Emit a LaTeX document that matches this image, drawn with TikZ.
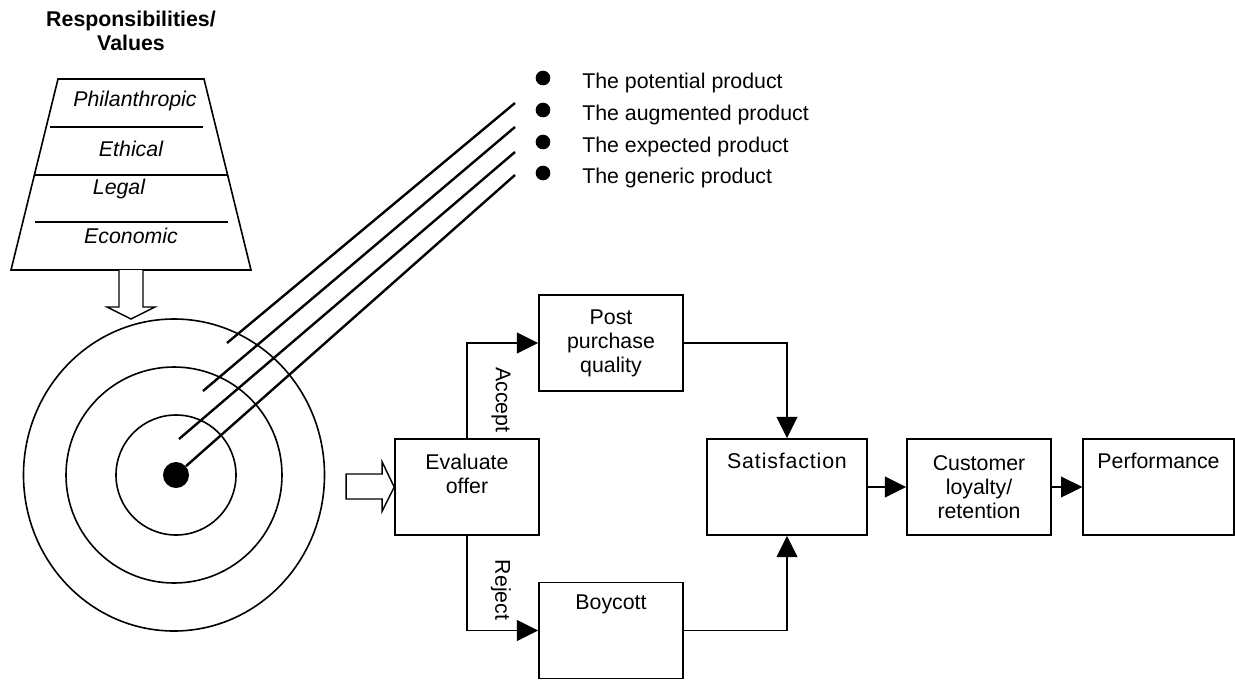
\documentclass[tikz,border=0pt]{standalone}
\usepackage{fontspec}
\setmainfont{Liberation Sans}
\usetikzlibrary{arrows.meta,positioning}

\tikzset{
  box/.style={draw, line width=1.2pt, minimum width=108pt, minimum height=72pt, inner sep=0pt, align=center, font=\fontsize{16}{18}\selectfont},
  txt/.style={inner sep=0pt, align=center, font=\fontsize{16}{18}\selectfont},
  layer/.style={inner sep=0pt, font=\fontsize{16}{18}\selectfont\itshape},
  flow/.style={line width=1.4pt, -{Triangle[length=16pt,width=15.5pt]}},
  ray/.style={line width=1.8pt},
  ring/.style={line width=1.2pt},
  hollow/.style={line width=1.1pt, fill=white},
  bullet/.style={circle, fill=black, inner sep=0pt, minimum size=11pt},
}

\begin{document}
\begin{tikzpicture}[x=0.75pt,y=0.75pt,yscale=-1,xscale=1]
  \useasboundingbox (0,0) rectangle (1235,679);

  % responsibilities pyramid
  \node[txt, font=\fontsize{16}{18}\selectfont\bfseries] (title) at (131,31) {Responsibilities/\\Values};
  \draw[ring] (58,79) -- (204,79) -- (251,270) -- (11,270) -- cycle;
  \draw[ring] (50,127) -- (203,127);
  \draw[ring] (34,175) -- (228,175);
  \draw[ring] (35,222) -- (228,222);
  \node[layer] (phil) at (135,101) {Philanthropic};
  \node[layer] (eth) at (131,149) {Ethical};
  \node[layer] (leg) at (119,189) {Legal};
  \node[layer] (eco) at (131,236) {Economic};
  \draw[hollow] (119,270) -- (119,307) -- (107,307) -- (131,319) -- (155,307) -- (143,307) -- (143,270);

  % product target
  \coordinate (tc) at (174,475);
  \draw[ring] (tc) ellipse [x radius=150.5, y radius=156];
  \draw[ring] (tc) circle [radius=108];
  \draw[ring] ([xshift=1.5pt]tc) circle [radius=60];
  \node[circle, fill=black, inner sep=0pt, minimum size=19.5pt] (dot) at (176,475) {};

  \coordinate (s1) at (227,343);
  \coordinate (s2) at (203,391);
  \coordinate (s3) at (179,439);
  \coordinate (e1) at (515,103);
  \coordinate (e2) at (515,127);
  \coordinate (e3) at (515,152);
  \coordinate (e4) at (515,175);
  \draw[ray] (s1) -- (e1);
  \draw[ray] (s2) -- (e2);
  \draw[ray] (s3) -- (e3);
  \draw[ray] (dot) -- (e4);

  \foreach \i/\y/\t in {1/78/The potential product, 2/110/The augmented product,
                         3/142/The expected product, 4/173/The generic product}{
    \node[bullet] (b\i) at (543,\y) {};
    \node[txt, anchor=west] (p\i) at (582,\y+5) {\t};
  }

  % evaluation chain
  \node[box] (eval) at (467,487) {};
  \node[txt] (evaltxt) at ([yshift=27pt]eval.north) {Evaluate\\offer};
  \node[box] (post) at (611,343) {Post\\purchase\\quality};
  \node[box] (boy) at (611,630.5) {};
  \node[txt] (boytxt) at ([yshift=17pt]boy.north) {Boycott};
  \node[box, minimum width=120pt] (sat) at (787,487) {};
  \node[txt, font=\fontsize{16}{18}\selectfont\addfontfeature{LetterSpace=4}] (sattxt) at ([yshift=17pt]sat.north) {Satisfaction};
  \node[box] (cust) at (979,487) {Customer\\loyalty/\\retention};
  \node[box, minimum width=113pt] (perf) at (1158.5,487) {};
  \node[txt] (perftxt) at ([yshift=17pt]perf.north) {Performance};

  \draw[hollow] (eval.west) -- ++(-12,-25) -- ++(0,12) -- ++(-36,0) -- ++(0,25) -- ++(36,0) -- ++(0,12) -- cycle;

  \draw[flow] (eval.north) |- (post.west);
  \draw[flow] (eval.south) |- (boy.west);
  \draw[flow] (post.east) -| (sat.north);
  \draw[flow] (boy.east) -| (sat.south);
  \draw[flow] (sat) -- (cust);
  \draw[flow] (cust) -- (perf);

  \node[txt, rotate=-90] (acc) at (501,400) {Accept};
  \node[txt, rotate=-90] (rej) at (501,590) {Reject};
\end{tikzpicture}
\end{document}
